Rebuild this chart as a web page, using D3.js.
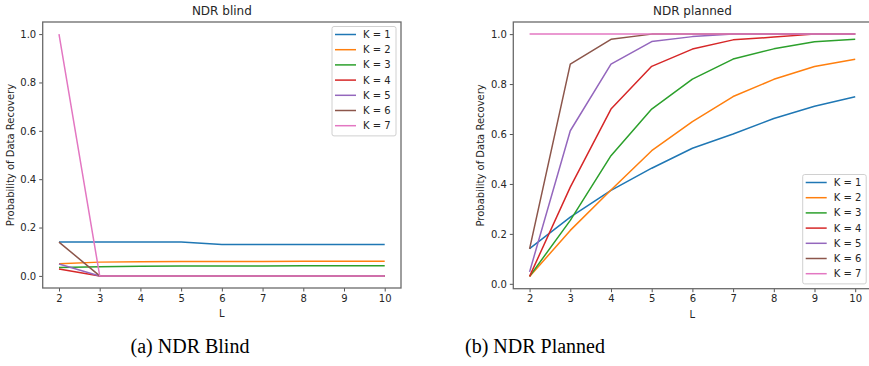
<!DOCTYPE html>
<html>
<head>
<meta charset="utf-8">
<script src="https://cdn.jsdelivr.net/npm/d3@7"></script>
<style>
  html, body { margin: 0; padding: 0; background: #fff; overflow: hidden; }
  text { font-family: "DejaVu Sans", sans-serif; fill: #262626; }
  .caption { font-family: "Liberation Serif", "DejaVu Serif", serif; fill: #000; }
</style>
</head>
<body>
<svg id="chart" width="869" height="366"></svg>
<script>
const L = [2, 3, 4, 5, 6, 7, 8, 9, 10];
const seriesNames = ['K = 1', 'K = 2', 'K = 3', 'K = 4', 'K = 5', 'K = 6', 'K = 7'];
const colors = ['#1f77b4', '#ff7f0e', '#2ca02c', '#d62728', '#9467bd', '#8c564b', '#e377c2'];
const yTicks = [0, 0.2, 0.4, 0.6, 0.8, 1.0];

// NDR blind
const blindK1 = [0.14, 0.14, 0.14, 0.14, 0.13, 0.13, 0.13, 0.13, 0.13];
const blindK2 = [0.05, 0.057, 0.059, 0.06, 0.06, 0.06, 0.061, 0.061, 0.061];
const blindK3 = [0.035, 0.038, 0.04, 0.041, 0.041, 0.041, 0.042, 0.042, 0.042];
const blindK4 = [0.029, 0, 0, 0, 0, 0, 0, 0, 0];
const blindK5 = [0.049, 0, 0, 0, 0, 0, 0, 0, 0];
const blindK6 = [0.14, 0, 0, 0, 0, 0, 0, 0, 0];
const blindK7 = [1.0, 0, 0, 0, 0, 0, 0, 0, 0];

// NDR planned
const plannedK1 = [0.141, 0.267, 0.374, 0.463, 0.543, 0.60, 0.662, 0.711, 0.749];
const plannedK2 = [0.029, 0.214, 0.376, 0.533, 0.65, 0.75, 0.819, 0.87, 0.899];
const plannedK3 = [0.03, 0.254, 0.513, 0.70, 0.82, 0.90, 0.941, 0.969, 0.979];
const plannedK4 = [0.03, 0.387, 0.70, 0.871, 0.94, 0.977, 0.988, 1.0, 1.0];
const plannedK5 = [0.048, 0.613, 0.88, 0.97, 0.99, 1.0, 1.0, 1.0, 1.0];
const plannedK6 = [0.14, 0.88, 0.979, 1.0, 1.0, 1.0, 1.0, 1.0, 1.0];
const plannedK7 = [1.0, 1.0, 1.0, 1.0, 1.0, 1.0, 1.0, 1.0, 1.0];

const svg = d3.select('#chart');

function drawPanel(opts) {
  const { left, right, top, bottom, title, series, legend } = opts;
  const g = svg.append('g');

  // matplotlib style 5% margins around the data
  const all = series.flat();
  const [lo, hi] = d3.extent(all);
  const yPad = (hi - lo) * 0.05;
  const xPad = (d3.max(L) - d3.min(L)) * 0.05;

  const x = d3.scaleLinear().domain([d3.min(L) - xPad, d3.max(L) + xPad]).range([left, right]);
  const y = d3.scaleLinear().domain([lo - yPad, hi + yPad]).range([bottom, top]);

  const line = d3.line().x((d, i) => x(L[i])).y(d => y(d));

  const clipId = 'clip' + Math.round(left);
  g.append('clipPath').attr('id', clipId)
    .append('rect').attr('x', left).attr('y', top).attr('width', right - left).attr('height', bottom - top);

  g.append('g').attr('clip-path', `url(#${clipId})`)
    .selectAll('path')
    .data(series)
    .join('path')
    .attr('d', d => line(d))
    .attr('fill', 'none')
    .attr('stroke', (d, i) => colors[i])
    .attr('stroke-width', 1.5)
    .attr('stroke-linejoin', 'round');

  // axes
  const xAxis = g.append('g').attr('transform', `translate(0,${bottom})`)
    .call(d3.axisBottom(x).tickValues(L).tickFormat(d3.format('d')).tickSize(3.5).tickPadding(3));
  const yAxis = g.append('g').attr('transform', `translate(${left},0)`)
    .call(d3.axisLeft(y).tickValues(yTicks).tickFormat(d3.format('.1f')).tickSize(3.5).tickPadding(3));
  [xAxis, yAxis].forEach(a => {
    a.select('.domain').remove();
    a.selectAll('line').attr('stroke', '#555');
    a.selectAll('text').attr('font-size', 10).style('fill', '#262626');
  });

  // frame
  g.append('rect')
    .attr('x', left).attr('y', top)
    .attr('width', right - left).attr('height', bottom - top)
    .attr('fill', 'none').attr('stroke', '#6a6a6a').attr('stroke-width', 1.3);

  g.append('text')
    .attr('x', (left + right) / 2).attr('y', top - 7)
    .attr('text-anchor', 'middle').attr('font-size', 12)
    .text(title);

  g.append('text')
    .attr('x', (left + right) / 2).attr('y', bottom + 29)
    .attr('text-anchor', 'middle').attr('font-size', 10)
    .text('L');

  g.append('text')
    .attr('transform', `translate(${left - 29},${(top + bottom) / 2}) rotate(-90)`)
    .attr('text-anchor', 'middle').attr('font-size', 10)
    .text('Probability of Data Recovery');

  // legend
  const lg = g.append('g').attr('transform', `translate(${legend.x},${legend.y})`);
  const rowH = 15.2;
  lg.append('rect')
    .attr('x', 0).attr('y', 0)
    .attr('width', legend.w).attr('height', seriesNames.length * rowH + 3)
    .attr('rx', 2)
    .attr('fill', '#fff').attr('fill-opacity', 0.8)
    .attr('stroke', '#d0d0d0').attr('stroke-width', 1);
  const rows = lg.selectAll('g.row').data(seriesNames).join('g')
    .attr('class', 'row')
    .attr('transform', (d, i) => `translate(0,${8 + i * rowH})`);
  rows.append('line')
    .attr('x1', 3).attr('x2', 24).attr('y1', 0).attr('y2', 0)
    .attr('stroke', (d, i) => colors[i]).attr('stroke-width', 1.5);
  rows.append('text')
    .attr('x', 31).attr('y', 3.5).attr('font-size', 10)
    .text(d => d);
}

drawPanel({
  left: 42.7, right: 401, top: 22, bottom: 288,
  title: 'NDR blind',
  series: [blindK1, blindK2, blindK3, blindK4, blindK5, blindK6, blindK7],
  legend: { x: 332, y: 26.5, w: 64 }
});

drawPanel({
  left: 513.3, right: 871.5, top: 22, bottom: 288.7,
  title: 'NDR planned',
  series: [plannedK1, plannedK2, plannedK3, plannedK4, plannedK5, plannedK6, plannedK7],
  legend: { x: 802.7, y: 174.5, w: 63.5 }
});

svg.append('text').attr('class', 'caption')
  .attr('x', 190).attr('y', 353).attr('text-anchor', 'middle').attr('font-size', 20)
  .text('(a) NDR Blind');
svg.append('text').attr('class', 'caption')
  .attr('x', 535).attr('y', 353).attr('text-anchor', 'middle').attr('font-size', 20)
  .text('(b) NDR Planned');
</script>
</body>
</html>
